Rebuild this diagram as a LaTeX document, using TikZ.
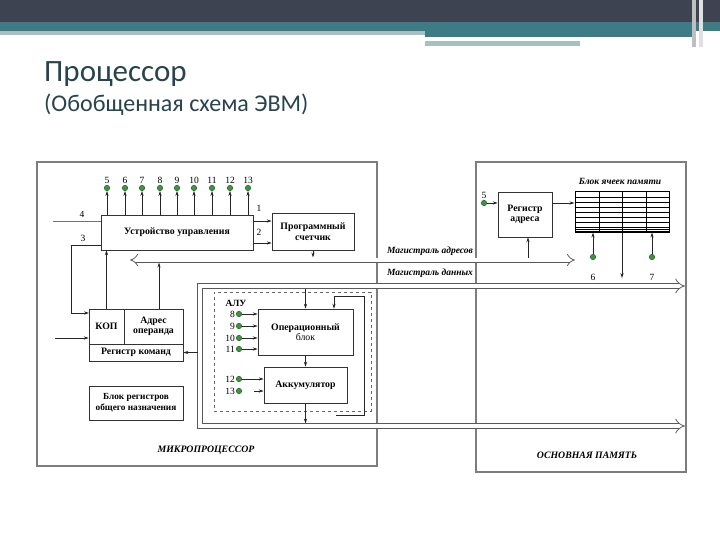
\documentclass[tikz,border=0pt]{standalone}
\usepackage{fontspec}
\setmainfont{Liberation Serif}
\newfontfamily\titlefont{Carlito}
\usetikzlibrary{arrows.meta,calc}

\definecolor{bandDark}{RGB}{62,67,82}
\definecolor{bandTeal}{RGB}{62,124,133}
\definecolor{bandLight}{RGB}{168,191,194}
\definecolor{titleCol}{RGB}{40,68,78}
\definecolor{pinGreen}{RGB}{60,150,60}
\definecolor{pinEdge}{RGB}{25,85,25}
\definecolor{frameGray}{RGB}{125,125,125}

\begin{document}
\begin{tikzpicture}[x=1pt,y=-1pt,
  box/.style={draw=black!80, line width=0.6pt, inner sep=0pt, align=center, font=\fontsize{9.8}{10.5}\selectfont\bfseries},
  frame/.style={draw=frameGray, line width=1.1pt, inner sep=0pt},
  arr/.style={draw=black!85, line width=0.6pt, -{Stealth[length=5pt,width=3.2pt]}},
  ln/.style={draw=black!85, line width=0.6pt},
  bus/.style={draw=black!65, double=white, double distance=3.5pt, line width=0.75pt},
  pindot/.style={circle, fill=pinGreen, draw=pinEdge, line width=0.4pt, minimum size=5.5pt, inner sep=0pt},
  num/.style={font=\fontsize{9.5}{10}\selectfont, inner sep=0.5pt},
  captext/.style={font=\fontsize{9.5}{10}\selectfont\bfseries\itshape, inner sep=0pt},
  bigcaptext/.style={font=\fontsize{9.8}{10}\selectfont\bfseries\itshape, inner sep=0pt}
]
\useasboundingbox (0,0) rectangle (720,540);
\fill[white] (0,0) rectangle (720,540);

% banner
\fill[bandDark] (0,0) rectangle (720,22);
\fill[bandTeal] (0,22) rectangle (720,31);
\fill[bandLight] (0,31) rectangle (425,35);
\fill[bandTeal] (425,31) rectangle (692,37);
\fill[bandLight] (425,41) rectangle (580,46);
\fill[black!25] (692,0) rectangle (696,47);
\fill[black!12] (699,0) rectangle (703,47);

% titles
\node[anchor=base west, inner sep=0pt, text=titleCol, font=\titlefont\fontsize{31}{33}\selectfont] (title) at (44,82) {Процессор};
\node[anchor=base west, inner sep=0pt, text=titleCol, font=\titlefont\fontsize{24}{26}\selectfont] (subtitle) at (44,112) {(Обобщенная схема ЭВМ)};

% frames
\node[frame, minimum width=340, minimum height=304] (mp) at (207,314) {};
\node[frame, minimum width=210, minimum height=310] (om) at (581,317) {};

% boxes
\node[box, minimum width=152, minimum height=35] (cu) at (177,232.5) {Устройство управления};
\node[box, minimum width=82, minimum height=37] (pc) at (313,231.5) {Программный\\счетчик};
\node[box, minimum width=35, minimum height=35] (kop) at (106.5,326.5) {КОП};
\node[box, minimum width=59, minimum height=35] (addr) at (153.5,326.5) {Адрес\\операнда};
\node[box, minimum width=94, minimum height=17] (rk) at (136,352.5) {Регистр команд};
\node[box, minimum width=94, minimum height=34, font=\fontsize{9.3}{10.5}\selectfont\bfseries] (bro) at (136,403) {Блок регистров\\общего назначения};
\node[draw=black!60, dashed, line width=0.5pt, minimum width=157, minimum height=119, inner sep=0pt] (alu) at (292.5,351.5) {};
\node[num, font=\fontsize{9.5}{10}\selectfont\bfseries] (alul) at (236,303) {АЛУ};
\node[box, minimum width=95, minimum height=46] (op) at (305.5,332) {Операционный\\{\mdseries блок}};
\node[box, minimum width=83, minimum height=36] (acc) at (305.5,385) {Аккумулятор};
\node[box, minimum width=54, minimum height=45] (ra) at (525,214.5) {Регистр\\адреса};
\node[draw=black, line width=1pt, minimum width=94, minimum height=40, inner sep=0pt] (mem) at (622,212) {};
\foreach \yy in {197,202,...,227} \draw[line width=0.6pt] (mem.west |- 0,\yy) -- (mem.east |- 0,\yy);
\draw[line width=0.9pt] (mem.west |- 0,229) -- (mem.east |- 0,229);
\foreach \xx in {599,622,646} \draw[line width=0.7pt] (mem.north -| \xx,0) -- (mem.south -| \xx,0);

% captions
\node[captext] (capmem) at (620,181) {Блок ячеек памяти};
\node[captext] (capab) at (430,251) {Магистраль адресов};
\node[captext] (capdb) at (430,273) {Магистраль данных};
\node[bigcaptext] (capmp) at (206,450) {МИКРОПРОЦЕССОР};
\node[bigcaptext] (capom) at (587,455) {ОСНОВНАЯ ПАМЯТЬ};

% buses
\coordinate (ab1) at (130,260);
\coordinate (ab2) at (575,260);
\draw[bus, {Implies}-{Implies}] (ab1) -- (ab2);
\coordinate (db1) at (685,286);
\coordinate (dbc1) at (200,286);
\coordinate (dbc2) at (200,426);
\coordinate (db2) at (685,426);
\draw[bus, double distance=4.5pt, {Implies}-{Implies}] (db1) -- (dbc1) -- (dbc2) -- (db2);

% top pins of control unit
\foreach \n/\x in {5/107,6/125,7/142,8/160,9/177,10/194,11/212,12/230,13/248}
  \node[pindot, label={[num,label distance=0.5pt]above:\n}] (t\n) at (\x,188) {};
\foreach \n in {5,...,13} \draw[arr] (cu.north -| t\n) -- (t\n.south);

% inputs 3 and 4
\coordinate (in4) at (53,221);
\node[num] (l4) at (82,214) {4};
\draw[ln, draw=black!55] (in4) -- (in4 -| cu.west);
\coordinate (c3) at (71,245);
\coordinate (k3) at (89,313);
\node[num] (l3) at (83,238) {3};
\draw[arr] (cu.west |- c3) -- (c3) |- (k3);
\coordinate (in5) at (55,338);
\draw[arr] (in5) -- (in5 -| kop.west);

% command register links
\draw[arr] (kop.north) -- (kop.north |- cu.south);
\coordinate (abB) at (0,262.5);
\coordinate (abT) at (0,257.5);
\draw[arr] ([xshift=5.5pt]addr.north) -- ([xshift=5.5pt]addr.north |- abB);
\coordinate (dbL) at (197.5,0);
\draw[arr] (rk.east -| dbL) -- (rk.east);

% control unit to program counter
\node[num] (l1) at (259,208) {1};
\node[num] (l2) at (259,232) {2};
\draw[arr] (cu.east |- 0,221) -- (pc.west |- 0,221);
\draw[arr] (cu.east |- 0,243) -- (pc.west |- 0,243);
\draw[arr] (pc.south) -- (pc.south |- abT);

% ALU
\coordinate (dbB) at (0,288.5);
\coordinate (dbI) at (0,423.5);
\draw[arr] (op.north |- dbB) -- (op.north);
\draw[arr] (op.south) -- (acc.north);
\draw[arr] (acc.south) -- (acc.south |- dbI);
\coordinate (fb1) at (336,415);
\coordinate (fb2) at (364,415);
\coordinate (fb3) at (364,296);
\coordinate (fb4) at (334,296);
\draw[arr] (fb1) -- (fb2) -- (fb3) -- (fb4) -- (fb4 |- op.north);
\foreach \n/\y in {8/314,9/326,10/338,11/349,12/379,13/391}
  \node[pindot, label={[num,label distance=0.5pt]left:\n}] (a\n) at (239,\y) {};
\foreach \n in {8,9,10,11} \draw[arr] (a\n.east) -- (a\n -| op.west);
\draw[arr] (a12.east) -- (a12 -| acc.west);
\draw[arr] ([xshift=12pt]a13.east) -- (a13 -| acc.west);

% memory side
\node[pindot, label={[num,label distance=1pt]above:5}] (q5) at (484,203) {};
\draw[arr] (q5.east) -- (q5 -| ra.west);
\draw[arr] (ra.east |- q5) -- (mem.west |- q5);
\draw[arr] ([xshift=3pt]ra.south |- abT) -- ([xshift=3pt]ra.south);
\node[pindot] (q6) at (593,257) {};
\node[pindot] (q7) at (652,257) {};
\node[num] (l6) at (593,277) {6};
\node[num] (l7) at (652,277) {7};
\draw[arr] (q6.north) -- (q6 |- mem.south);
\draw[arr] (q7.north) -- (q7 |- mem.south);
\coordinate (m7) at (622,278);
\draw[arr] (mem.south -| m7) -- (m7);
\end{tikzpicture}
\end{document}
